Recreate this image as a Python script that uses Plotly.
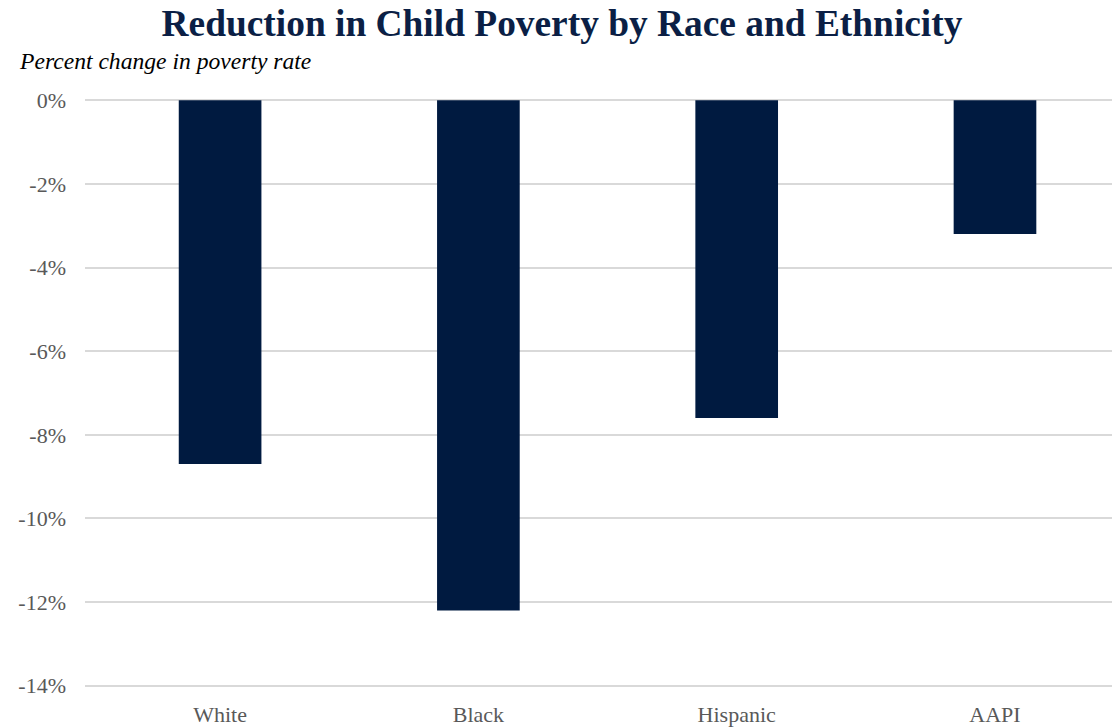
import plotly.graph_objects as go

categories = ["White", "Black", "Hispanic", "AAPI"]
values = [-8.7, -12.2, -7.6, -3.2]
tick_vals = [0, -2, -4, -6, -8, -10, -12, -14]
tick_text = ["0%", "-2%", "-4%", "-6%", "-8%", "-10%", "-12%", "-14%"]

navy = "#001a40"
font = "Liberation Serif"

fig = go.Figure(go.Bar(x=categories, y=values, marker=dict(color=navy, line=dict(width=0)), width=0.32))

fig.update_layout(
    width=1112, height=728,
    margin=dict(l=85, r=0, t=99, b=41),
    paper_bgcolor="white", plot_bgcolor="white",
    font=dict(family=font, size=22, color="#595959"),
    showlegend=False,
    title=dict(text="<b>Reduction in Child Poverty by Race and Ethnicity</b>",
               x=0.5054, xanchor="center", y=0.968, yanchor="middle",
               font=dict(family=font, size=37.4, color="#0b1f45")),
    annotations=[dict(text="<i>Percent change in poverty rate</i>", xref="paper", yref="paper",
                      x=-0.0665, y=1.065, xanchor="left", yanchor="middle", showarrow=False,
                      font=dict(family=font, size=23.6, color="#000000"))],
)
fig.update_xaxes(type="category", range=[-0.523, 3.453], showgrid=False, showline=False,
                 ticks="", ticklabelstandoff=12,
                 tickfont=dict(family=font, size=22, color="#595959"))
fig.update_yaxes(range=[-14.03, 0.03], tickvals=tick_vals, ticktext=tick_text,
                 showgrid=True, gridcolor="#d9d9d9", gridwidth=1.5,
                 zeroline=True, zerolinecolor="#d9d9d9", zerolinewidth=1.5,
                 showline=False, ticks="", ticklabelstandoff=18,
                 tickfont=dict(family=font, size=22, color="#595959"))

fig.write_html("out.html")
